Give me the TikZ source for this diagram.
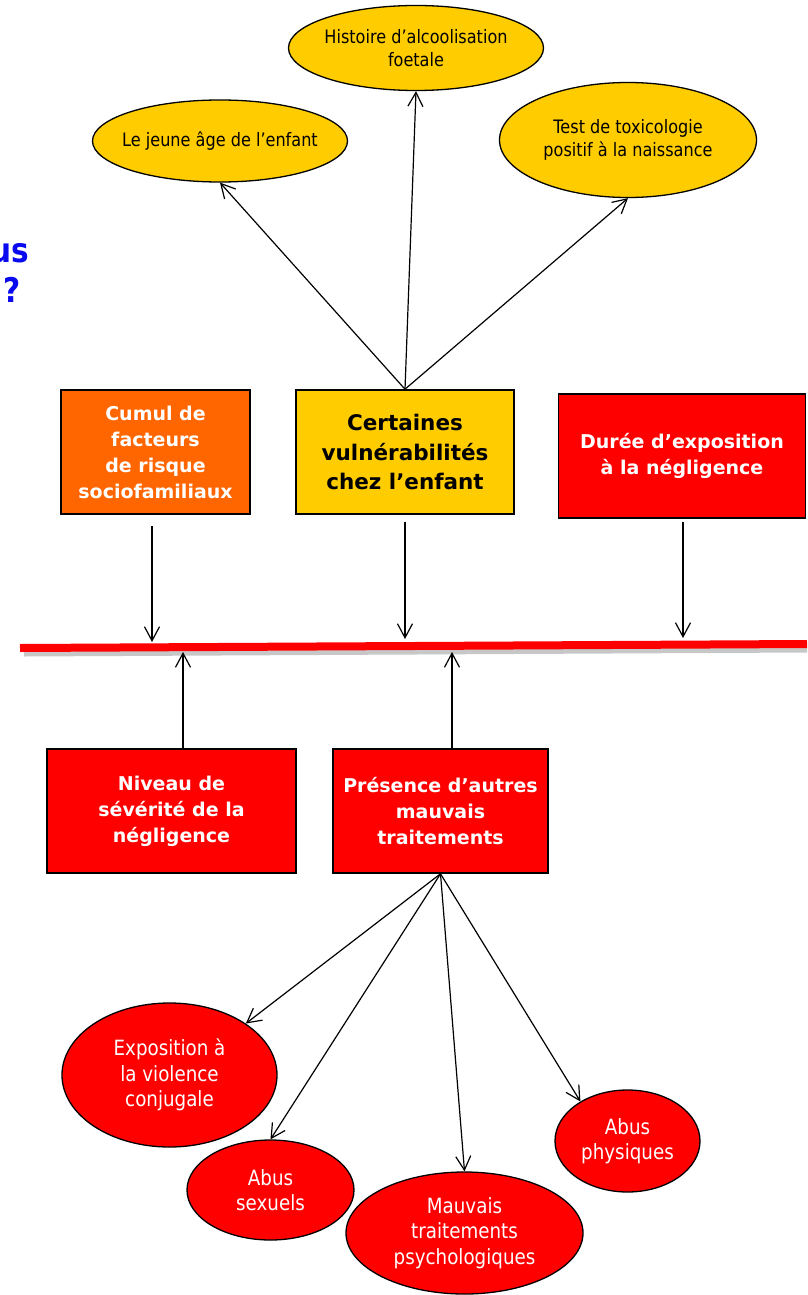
\documentclass[tikz,border=0pt]{standalone}
\usepackage{fontspec}
\setmainfont{DejaVu Sans}
\newfontfamily\ellfont[FakeStretch=0.87]{DejaVu Sans}
\usetikzlibrary{arrows.meta,shapes.geometric}
\definecolor{orangeC}{HTML}{FF6600}
\definecolor{yellowC}{HTML}{FFCC00}
\definecolor{redC}{HTML}{FF0000}
\definecolor{blueC}{HTML}{0A0AF0}
\begin{document}
\begin{tikzpicture}[x=1pt,y=-1pt,
  boxnode/.style={draw=black, line width=1.6pt, align=center, inner sep=0pt,
    font=\bfseries\fontsize{19}{26}\selectfont},
  ellnode/.style={ellipse, draw=black, line width=1.3pt, align=center, inner sep=0pt},
  topell/.style={ellnode, fill=yellowC, inner xsep=-25pt, font=\ellfont\fontsize{18.5}{23}\selectfont},
  botell/.style={ellnode, fill=redC, text=white, font=\ellfont\fontsize{21}{25.5}\selectfont},
  arr/.style={-{Straight Barb[length=14pt,width=15pt,line width=1.2pt]}, line width=1.2pt},
  titletext/.style={text=blueC, font=\ellfont\bfseries\fontsize{34}{40}\selectfont, inner sep=0pt}
]
\useasboundingbox (0,0) rectangle (807,1295);

% clipped title remnants
\node[titletext, anchor=base east] (t1) at (29,262) {us};
\node[titletext, anchor=base east] (t2) at (21,302) {?};

% top ellipses
\node[topell, minimum width=255, minimum height=82] (jeune) at (220,141) {Le jeune âge de l’enfant};
\node[topell, minimum width=255, minimum height=85] (hist) at (416,48) {Histoire d’alcoolisation\\foetale};
\node[topell, minimum width=257, minimum height=115] (tox) at (628,140) {Test de toxicologie\\positif à la naissance};

% upper boxes
\node[boxnode, fill=orangeC, text=white, minimum width=189, minimum height=124] (cumul) at (155.5,452) {Cumul de\\facteurs\\de risque\\sociofamiliaux};
\node[boxnode, fill=yellowC, minimum width=218, minimum height=124,
  font=\bfseries\fontsize{21.5}{29.5}\selectfont] (cert) at (405,452) {Certaines\\vulnérabilités\\chez l’enfant};
\node[boxnode, fill=redC, text=white, minimum width=247, minimum height=124] (duree) at (682,456) {Durée d’exposition\\à la négligence};

% lower boxes
\node[boxnode, fill=redC, text=white, minimum width=249, minimum height=124] (niveau) at (171.5,811) {Niveau de\\sévérité de la\\négligence};
\node[boxnode, fill=redC, text=white, minimum width=215, minimum height=124] (pres) at (440.5,811) {Présence d’autres\\mauvais\\traitements};

% bottom ellipses
\node[botell, minimum width=215, minimum height=144] (expo) at (169.5,1075) {Exposition à\\la violence\\conjugale};
\node[botell, minimum width=167, minimum height=100] (sex) at (270.5,1190) {Abus\\sexuels};
\node[botell, minimum width=237, minimum height=122] (psy) at (464.5,1233) {Mauvais\\traitements\\psychologiques};
\node[botell, minimum width=145, minimum height=102] (phys) at (627.5,1141) {Abus\\physiques};

% red horizontal line
\coordinate (lineL) at (20,648);
\coordinate (lineR) at (807,644);
\coordinate (shL) at (24,654);
\coordinate (shR) at (807,650);
\draw[black!22, line width=5pt] (shL) -- (shR);
\draw[redC, line width=8pt] (lineL) -- (lineR);

% arrows into line
\coordinate (a1s) at (152,526);  \coordinate (a1e) at (152,642);
\coordinate (a2s) at (405,522);  \coordinate (a2e) at (405,639);
\coordinate (a3s) at (683,522);  \coordinate (a3e) at (683,638);
\coordinate (b1e) at (183,652);
\coordinate (b2e) at (452,652);
\draw[arr] (a1s) -- (a1e);
\draw[arr] (a2s) -- (a2e);
\draw[arr] (a3s) -- (a3e);
\draw[arr] (niveau.north -| b1e) -- (b1e);
\draw[arr] (pres.north -| b2e) -- (b2e);

% arrows to top ellipses
\draw[arr] (cert.north) -- (jeune.south);
\draw[arr] (cert.north) -- (hist.south);
\draw[arr] (cert.north) -- (tox.south);

% arrows to bottom ellipses
\draw[arr] (pres.south) -- (expo.34);
\draw[arr] (pres.south) -- (sex.north);
\draw[arr] (pres.south) -- (psy.north);
\draw[arr] (pres.south) -- (phys.140);
\end{tikzpicture}
\end{document}
